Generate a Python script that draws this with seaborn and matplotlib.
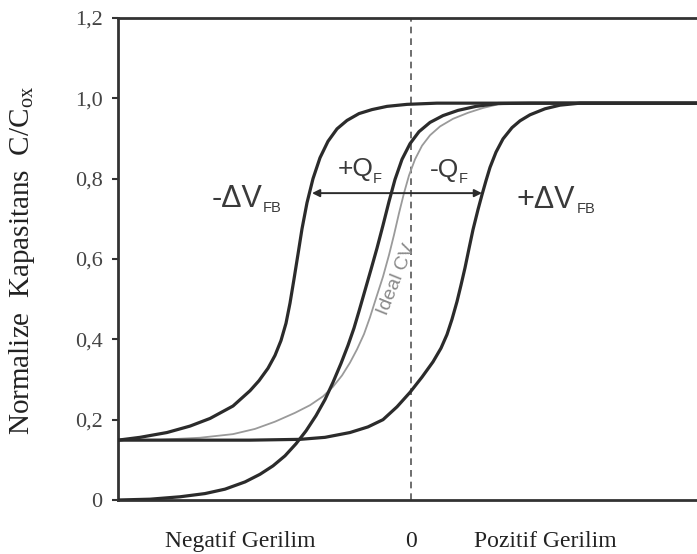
import matplotlib
matplotlib.use("Agg")
import matplotlib.pyplot as plt
import seaborn as sns
import pandas as pd

# ---- data (voltage in arbitrary units, 0 = dashed line) ----
volt_neg = [-5.86, -5.42, -4.88, -4.42, -4.02, -3.56, -3.22, -3.04, -2.86, -2.72,
            -2.60, -2.50, -2.42, -2.34, -2.26, -2.18, -2.08, -1.96, -1.82, -1.66,
            -1.48, -1.28, -1.04, -0.78, -0.48, -0.08, 0.52, 5.72]
cap_neg = [0.149, 0.156, 0.168, 0.184, 0.203, 0.234, 0.272, 0.297, 0.328, 0.360,
           0.397, 0.440, 0.490, 0.550, 0.612, 0.675, 0.740, 0.800, 0.852, 0.893,
           0.924, 0.945, 0.962, 0.972, 0.980, 0.985, 0.988, 0.988]

volt_pq = [-5.86, -5.22, -4.62, -4.12, -3.72, -3.32, -3.02, -2.76, -2.52, -2.30,
           -2.10, -1.90, -1.72, -1.56, -1.40, -1.26, -1.14, -1.04, -0.92, -0.80,
           -0.68, -0.56, -0.44, -0.32, -0.18, -0.02, 0.16, 0.38, 0.64, 0.94,
           1.30, 1.74, 2.38, 5.72]
cap_pq = [0.0, 0.002, 0.008, 0.016, 0.027, 0.045, 0.064, 0.085, 0.110, 0.140,
          0.172, 0.210, 0.250, 0.293, 0.340, 0.385, 0.428, 0.470, 0.522, 0.574,
          0.627, 0.684, 0.743, 0.798, 0.848, 0.887, 0.917, 0.940, 0.957, 0.970,
          0.980, 0.987, 0.988, 0.988]

volt_pos = [-5.86, -3.22, -2.22, -1.72, -1.22, -0.86, -0.56, -0.28, -0.02, 0.22,
            0.44, 0.60, 0.72, 0.82, 0.92, 1.00, 1.08, 1.16, 1.24, 1.34,
            1.42, 1.50, 1.58, 1.70, 1.84, 2.02, 2.18, 2.38, 2.68, 2.98, 3.38, 5.72]
cap_pos = [0.149, 0.149, 0.151, 0.156, 0.168, 0.182, 0.200, 0.232, 0.268, 0.306,
           0.344, 0.378, 0.412, 0.450, 0.494, 0.535, 0.578, 0.626, 0.673, 0.723,
           0.760, 0.795, 0.828, 0.866, 0.899, 0.927, 0.944, 0.959, 0.974, 0.983, 0.988, 0.988]

volt_ideal = [-5.86, -5.02, -4.22, -3.56, -3.12, -2.72, -2.32, -2.02, -1.76, -1.56,
              -1.38, -1.22, -1.08, -0.94, -0.82, -0.70, -0.56, -0.44, -0.34, -0.24,
              -0.14, -0.04, 0.08, 0.22, 0.38, 0.58, 0.84, 1.14, 1.44, 1.74, 2.18]
cap_ideal = [0.149, 0.150, 0.155, 0.164, 0.177, 0.195, 0.217, 0.236, 0.258, 0.282,
             0.310, 0.342, 0.375, 0.413, 0.455, 0.502, 0.556, 0.610, 0.660, 0.714,
             0.764, 0.808, 0.848, 0.882, 0.908, 0.930, 0.949, 0.964, 0.976, 0.985, 0.988]

xtick_pos = [-3.42, 0.0, 2.68]
xtick_labels = ["Negatif Gerilim", "0", "Pozitif Gerilim"]
ytick_pos = [0.0, 0.2, 0.4, 0.6, 0.8, 1.0, 1.2]
ytick_labels = ["0", "0,2", "0,4", "0,6", "0,8", "1,0", "1,2"]

sns.set_theme(style="white")
plt.rcParams["font.family"] = ["Liberation Sans", "DejaVu Sans"]

fig = plt.figure(figsize=(6.97, 5.54), dpi=100)
ax = fig.add_axes([118 / 697, 54 / 554, 1 - 118 / 697, (500 - 18) / 554])

dark = "#2b2b2b"
df_ideal = pd.DataFrame({"V": volt_ideal, "C": cap_ideal})
sns.lineplot(data=df_ideal, x="V", y="C", ax=ax, color="#9a9a9a", lw=1.3,
             estimator=None, sort=False, zorder=2)
for vx, cy in [(volt_neg, cap_neg), (volt_pq, cap_pq), (volt_pos, cap_pos)]:
    d = pd.DataFrame({"V": vx, "C": cy})
    sns.lineplot(data=d, x="V", y="C", ax=ax, color=dark, lw=2.3,
                 estimator=None, sort=False, zorder=3)
for ln in ax.lines:
    ln.set_solid_joinstyle("round")
    ln.set_solid_capstyle("round")

ax.axvline(0, color="#555555", lw=1.2, ls=(0, (4, 3)), zorder=1)

ax.set_xlim(-5.86, 5.72)
ax.set_ylim(0, 1.2)

for s in ["left", "bottom", "top"]:
    ax.spines[s].set_color("#333333")
    ax.spines[s].set_linewidth(2.0)
ax.spines["right"].set_visible(False)

ax.set_yticks(ytick_pos)
ax.set_yticklabels(ytick_labels, family="Liberation Serif", fontsize=16, color="#444444")
ax.set_xticks(xtick_pos)
ax.set_xticklabels(xtick_labels, family="Liberation Serif", fontsize=17, color="#222222")
ax.tick_params(axis="y", length=4, width=1.5, color="#333333", pad=7, left=True, direction="out")
ax.tick_params(axis="x", length=0, pad=22)

ax.set_ylabel("Normalize  Kapasitans  C/C$_{\\mathregular{ox}}$", family="Liberation Serif",
              fontsize=21, color="#222222", va="center")
ax.yaxis.set_label_coords(-0.166, 0.498)
ax.set_xlabel("")

# double arrow
ax.annotate("", xy=(-1.98, 0.764), xytext=(1.42, 0.764),
            arrowprops=dict(arrowstyle="<|-|>", color=dark, lw=1.4, mutation_scale=11,
                            shrinkA=0, shrinkB=0), zorder=4)

txt_col = "#3a3a3a"
ax.text(-3.98, 0.729, "-ΔV", fontsize=22, color=txt_col, ha="left", va="baseline")
ax.text(-2.96, 0.717, "FB", fontsize=10.5, color=txt_col, ha="left", va="baseline")
ax.text(-1.46, 0.806, "+Q", fontsize=19, color=txt_col, ha="left", va="baseline")
ax.text(-0.76, 0.789, "F", fontsize=10.5, color=txt_col, ha="left", va="baseline")
ax.text(0.38, 0.804, "-Q", fontsize=19, color=txt_col, ha="left", va="baseline")
ax.text(0.96, 0.789, "F", fontsize=10.5, color=txt_col, ha="left", va="baseline")
ax.text(2.12, 0.727, "+ΔV", fontsize=22, color=txt_col, ha="left", va="baseline")
ax.text(3.32, 0.715, "FB", fontsize=10.5, color=txt_col, ha="left", va="baseline")
ax.text(-0.28, 0.548, "Ideal CV", fontsize=14, color="#8a8a8a", rotation=68,
        ha="center", va="center", rotation_mode="anchor")

fig.savefig("out.png", dpi=100)
